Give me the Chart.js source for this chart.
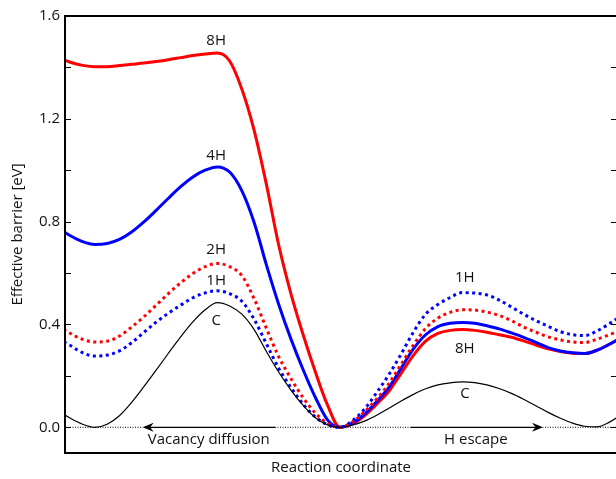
<!DOCTYPE html>
<html><head><meta charset="utf-8">
<script src="https://cdn.jsdelivr.net/npm/chart.js@4.4.0/dist/chart.umd.min.js"></script>
<style>
html,body{margin:0;padding:0;overflow:hidden;background:#fff;width:616px;height:479px}
#wrap{width:620px;height:479px;position:relative}
</style>
</head><body><div id="wrap"><canvas id="c" width="620" height="479"></canvas></div>
<script>
// Reaction coordinate samples (shared by all curves)
const xs = [-1.15,-1.10,-1.05,-1.00,-0.95,-0.90,-0.85,-0.80,-0.75,-0.70,-0.65,-0.60,-0.55,-0.50,-0.45,-0.40,-0.35,-0.30,-0.25,-0.20,-0.15,-0.10,-0.05,0.00,
            0.05,0.10,0.15,0.20,0.25,0.30,0.35,0.40,0.45,0.50,0.55,0.60,0.65,0.70,0.75,0.80,0.85,0.90,0.95,1.00,1.05,1.10,1.15];
// Effective barrier [eV]
const curveC  = [0.065,0.035,0.012,0.000,0.012,0.045,0.097,0.158,0.222,0.288,0.352,0.410,0.457,0.485,0.472,0.440,0.380,0.295,0.215,0.145,0.085,0.037,0.009,0.000,
                 0.008,0.024,0.047,0.074,0.102,0.128,0.150,0.165,0.173,0.177,0.174,0.165,0.151,0.132,0.109,0.084,0.058,0.035,0.016,0.004,0.002,0.020,0.050];
const curve1H = [0.345,0.318,0.290,0.277,0.281,0.297,0.329,0.369,0.409,0.444,0.475,0.504,0.523,0.531,0.520,0.490,0.420,0.325,0.230,0.155,0.090,0.040,0.010,0.000,
                 0.025,0.070,0.135,0.205,0.285,0.370,0.440,0.478,0.505,0.524,0.522,0.515,0.495,0.468,0.440,0.415,0.393,0.372,0.360,0.357,0.375,0.403,0.435];
const curve2H = [0.395,0.365,0.342,0.332,0.335,0.355,0.390,0.430,0.475,0.520,0.562,0.598,0.625,0.637,0.625,0.590,0.500,0.385,0.275,0.190,0.115,0.055,0.015,0.000,
                 0.020,0.060,0.110,0.170,0.245,0.320,0.385,0.425,0.447,0.457,0.456,0.448,0.435,0.415,0.390,0.370,0.352,0.340,0.332,0.330,0.343,0.360,0.380];
const curve4H = [0.775,0.745,0.722,0.711,0.715,0.731,0.760,0.799,0.844,0.891,0.936,0.974,1.000,1.013,0.993,0.920,0.797,0.632,0.479,0.344,0.224,0.116,0.028,0.000,
                 0.015,0.050,0.100,0.155,0.230,0.305,0.360,0.392,0.405,0.408,0.405,0.395,0.383,0.367,0.350,0.330,0.310,0.297,0.290,0.287,0.300,0.323,0.350];
const curve8H = [1.440,1.420,1.408,1.403,1.403,1.407,1.412,1.417,1.423,1.430,1.438,1.446,1.452,1.456,1.425,1.315,1.155,0.945,0.710,0.520,0.360,0.215,0.085,0.000,
                 0.012,0.045,0.090,0.140,0.210,0.280,0.335,0.365,0.377,0.380,0.377,0.370,0.360,0.350,0.336,0.320,0.305,0.295,0.288,0.287,0.300,0.323,0.350];
const yMajorTicks = [0.0,0.4,0.8,1.2,1.6];
const yMinorTicks = [0.2,0.6,1.0,1.4];
const curveLabels = [
  {text:'8H', x:-0.505, y:1.503},
  {text:'4H', x:-0.505, y:1.056},
  {text:'2H', x:-0.505, y:0.690},
  {text:'1H', x:-0.505, y:0.571},
  {text:'C',  x:-0.505, y:0.415},
  {text:'1H', x:0.51, y:0.583},
  {text:'8H', x:0.51, y:0.307},
  {text:'C',  x:0.51, y:0.132}
];
const arrows = [
  {text:'Vacancy diffusion', from:-0.265, to:-0.805, labelX:-0.535, labelY:-0.05},
  {text:'H escape', from:0.29, to:0.829, labelX:0.555, labelY:-0.05}
];

const FONT = "'Open Sans', 'DejaVu Sans', sans-serif";
const pts = arr => xs.map((x,i)=>({x:x, y:arr[i]}));

const deco = {
  id:'deco',
  beforeDatasetsDraw(chart){
    const ctx = chart.ctx, xS = chart.scales.x, yS = chart.scales.y, a = chart.chartArea;
    const y0 = yS.getPixelForValue(0);
    ctx.save();
    ctx.strokeStyle = '#000'; ctx.lineWidth = 1; ctx.setLineDash([1,1.5]);
    ctx.beginPath(); ctx.moveTo(a.left, y0); ctx.lineTo(a.right, y0); ctx.stroke();
    ctx.setLineDash([]);
    arrows.forEach(ar=>{
      const p1 = xS.getPixelForValue(ar.from), p2 = xS.getPixelForValue(ar.to);
      const d = Math.sign(p2-p1);
      ctx.fillStyle='#fff'; ctx.fillRect(Math.min(p1,p2), y0-1.5, Math.abs(p2-p1), 3);
      ctx.strokeStyle='#000'; ctx.lineWidth=1.3;
      ctx.beginPath(); ctx.moveTo(p1,y0); ctx.lineTo(p2 - d*6,y0); ctx.stroke();
      ctx.fillStyle='#000';
      ctx.beginPath(); ctx.moveTo(p2,y0); ctx.lineTo(p2-d*11,y0-4.5); ctx.lineTo(p2-d*7.5,y0);
      ctx.lineTo(p2-d*11,y0+4.5); ctx.closePath(); ctx.fill();
      ctx.font = "15px " + FONT; ctx.textAlign='center'; ctx.textBaseline='middle'; ctx.fillStyle='#111';
      ctx.fillText(ar.text, xS.getPixelForValue(ar.labelX), yS.getPixelForValue(ar.labelY));
    });
    ctx.restore();
  },
  afterDatasetsDraw(chart){
    const ctx = chart.ctx, xS = chart.scales.x, yS = chart.scales.y, a = chart.chartArea;
    ctx.save();
    ctx.strokeStyle='#000'; ctx.lineWidth=2;
    ctx.strokeRect(a.left, a.top, a.right-a.left, a.bottom-a.top);
    ctx.lineWidth=1;
    yMajorTicks.concat(yMinorTicks).forEach(v=>{
      const py = Math.round(yS.getPixelForValue(v))+0.5;
      ctx.beginPath(); ctx.moveTo(a.left, py); ctx.lineTo(a.left+6, py);
      ctx.moveTo(a.right-6, py); ctx.lineTo(a.right, py); ctx.stroke();
    });
    ctx.font = "15px " + FONT; ctx.textAlign='center'; ctx.textBaseline='middle'; ctx.fillStyle='#111';
    curveLabels.forEach(l=>{
      ctx.fillText(l.text, xS.getPixelForValue(l.x), yS.getPixelForValue(l.y));
    });
    ctx.restore();
  }
};

new Chart(document.getElementById('c'), {
  type:'line',
  data:{datasets:[
    {label:'C', data:pts(curveC), borderColor:'#000', borderWidth:1.2},
    {label:'1H', data:pts(curve1H), borderColor:'#0000ff', borderWidth:3, borderDash:[3,3.5]},
    {label:'2H', data:pts(curve2H), borderColor:'#ff0000', borderWidth:3, borderDash:[3,3.5]},
    {label:'4H', data:pts(curve4H), borderColor:'#0000ff', borderWidth:3},
    {label:'8H', data:pts(curve8H), borderColor:'#ff0000', borderWidth:3}
  ]},
  options:{
    responsive:false, animation:false, devicePixelRatio:1,
    layout:{padding:{top:16, right:3, left:0, bottom:0}},
    elements:{point:{radius:0}, line:{cubicInterpolationMode:'monotone', fill:false, borderCapStyle:'butt'}},
    plugins:{legend:{display:false}, tooltip:{enabled:false}},
    scales:{
      x:{type:'linear', min:-1.122, max:1.131,
         grid:{display:false, drawTicks:false}, border:{display:false},
         ticks:{display:false},
         title:{display:true, text:'Reaction coordinate', color:'#111', font:{family:FONT, size:15}, padding:{top:2,bottom:2}},
         afterFit(s){ s.height = 26; }},
      y:{type:'linear', min:-0.1, max:1.6,
         grid:{display:false, drawTicks:false}, border:{display:false},
         afterBuildTicks(s){ s.ticks = yMajorTicks.map(v=>({value:v})); },
         ticks:{color:'#111', padding:5, font:{family:FONT, size:15}, callback:v=>Number(v).toFixed(1)},
         title:{display:true, text:'Effective barrier [eV]', color:'#111', font:{family:FONT, size:15}, padding:{top:9,bottom:9}},
         afterFit(s){ s.width = 65; }}
    }
  },
  plugins:[deco]
});
</script></body></html>
